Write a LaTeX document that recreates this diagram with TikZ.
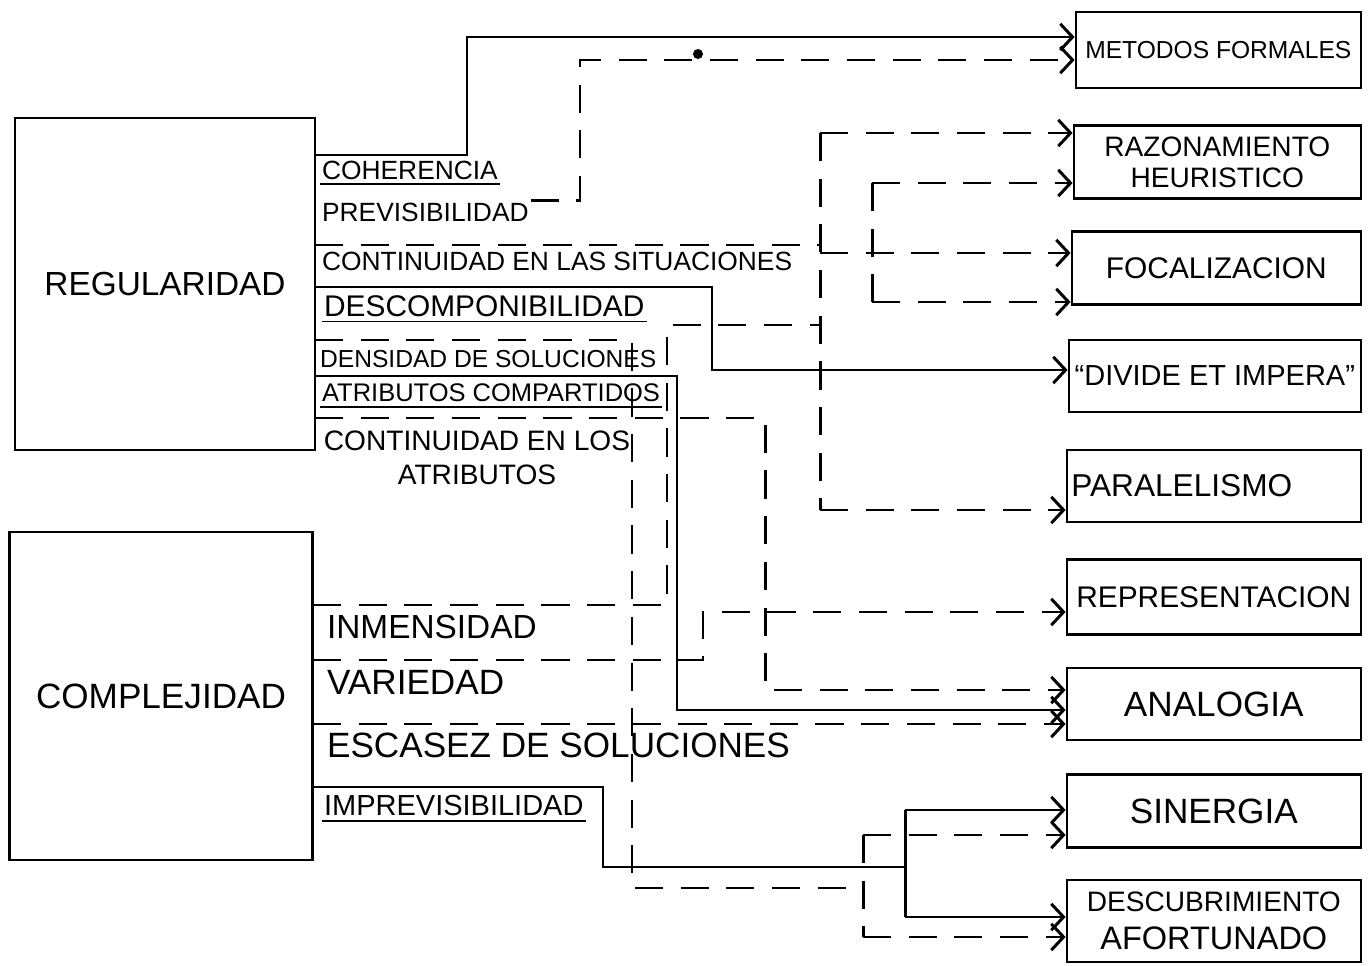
\documentclass[tikz,border=0pt]{standalone}
\usepackage{fontspec}
\setmainfont{Liberation Sans}
\usepackage{tikz}
\usetikzlibrary{arrows.meta}

\newcommand{\fsz}[1]{\fontsize{#1}{#1}\selectfont}

\tikzset{
	ln/.style={line width=1.7pt},
	bx/.style={draw, line width=1.4pt, inner sep=0pt},
	rbox/.style={bx, anchor=east, minimum width=5.88cm, minimum height=1.46cm},
	lbl/.style={anchor=west, inner sep=1pt},
	uline/.style={line width=0.9pt},
	>={Straight Barb[length=7pt,width=15pt]}
}

\begin{document}
\begin{tikzpicture}[x=0.02cm, y=-0.02cm]
		\useasboundingbox (0,0) rectangle (1370,966);
		
		% left blocks
		\node[bx, minimum width=6cm, minimum height=6.64cm, font=\fsz{19}] (reg) at (165,284) {REGULARIDAD};
		\node[bx, minimum width=6.06cm, minimum height=6.56cm, font=\fsz{20}] (com) at (161,696) {COMPLEJIDAD};
		
		% right blocks
		\node[rbox, minimum width=5.7cm, minimum height=1.52cm, font=\fsz{14}] (met) at (1362,50) {METODOS FORMALES};
		\node[rbox, minimum width=5.74cm, align=center, font=\fontsize{16}{17.5}\selectfont] (raz) at (1362,162) {RAZONAMIENTO\\HEURISTICO};
		\node[rbox, minimum width=5.78cm, font=\fsz{17}] (foc) at (1362,268) {FOCALIZACION};
		\node[rbox, minimum width=5.84cm, minimum height=1.44cm, font=\fsz{16.5}] (div) at (1362,376) {“DIVIDE ET IMPERA”};
		\node[rbox, minimum height=1.44cm, text width=5.7cm, align=left, font=\fsz{18}] (par) at (1362,486) {PARALELISMO};
		\node[rbox, minimum height=1.5cm, font=\fsz{17}] (rep) at (1362,597) {REPRESENTACION};
		\node[rbox, minimum height=1.44cm, font=\fsz{20}] (ana) at (1362,704) {ANALOGIA};
		\node[rbox, font=\fsz{20}] (sin) at (1362,811) {SINERGIA};
		\node[rbox, minimum height=1.64cm, align=center, font=\fontsize{16}{21.5}\selectfont] (des) at (1362,921) {DESCUBRIMIENTO\\{\fsz{18.5}AFORTUNADO}};
		
		% properties
		\node[lbl, font=\fsz{15}] (coh) at (320,170) {COHERENCIA};
		\node[lbl, font=\fsz{15}] (prev) at (320,212) {PREVISIBILIDAD};
		\node[lbl, font=\fsz{15}] (cont) at (320,261) {CONTINUIDAD EN LAS SITUACIONES};
		\node[lbl, font=\fsz{17}] (desc) at (322,306) {DESCOMPONIBILIDAD};
		\node[lbl, font=\fsz{14}] (dens) at (318,359) {DENSIDAD DE SOLUCIONES};
		\node[lbl, font=\fsz{14.5}] (atr) at (320,393) {ATRIBUTOS COMPARTIDOS};
		\node[align=center, inner sep=0pt, font=\fontsize{16}{19}\selectfont] (cla) at (477,458) {CONTINUIDAD EN LOS\\ATRIBUTOS};
		\node[lbl, font=\fsz{19}] (inm) at (325,627) {INMENSIDAD};
		\node[lbl, font=\fsz{20}] (var) at (325,682) {VARIEDAD};
		\node[lbl, font=\fsz{20}] (esc) at (325,745) {ESCASEZ DE SOLUCIONES};
		\node[lbl, font=\fsz{16.5}] (impr) at (322,806) {IMPREVISIBILIDAD};
		
		\foreach \n in {coh, desc, atr, impr}
			\draw[uline] ([yshift=-1.5pt]\n.south west) -- ([yshift=-1.5pt]\n.south east);
		
		\coordinate (cohA) at (315,155);   \coordinate (cohB) at (467,37);
		\coordinate (prevB) at (580,60);
		\coordinate (contA) at (315,245);
		\coordinate (descA) at (315,287);  \coordinate (descB) at (712,370);
		\coordinate (densA) at (315,340);  \coordinate (densB) at (632,888);
		\coordinate (atrA) at (315,376);   \coordinate (atrB) at (677,710);
		\coordinate (claA) at (315,418);   \coordinate (claB) at (765,690);
		\coordinate (inmA) at (313,605);   \coordinate (inmB) at (667,325);
		\coordinate (varA) at (313,660);   \coordinate (varB) at (703,612);
		\coordinate (escA) at (313,724);
		\coordinate (imprA) at (313,787);  \coordinate (imprB) at (603,867);
		
		\coordinate (busT) at (820,133);   \coordinate (busM) at (820,253);
		\coordinate (busB) at (820,510);
		\coordinate (busHT) at (872,183);  \coordinate (busHB) at (872,302);
		\coordinate (busST) at (863,835);  \coordinate (busSB) at (863,937);
		\coordinate (busIT) at (905,810);  \coordinate (busIB) at (905,917);
		
		% solid links
		\begin{scope}[ln]
			\draw[->] (cohA) -| (cohB) -- (met.west |- cohB);
			\draw[->] (descA) -| (descB) -- (div.west |- descB);
			\draw[->] (atrA) -| (atrB) -- (ana.west |- atrB);
			\draw (imprA) -| (imprB) -- (imprB -| busIT);
			\draw (busIT) -- (busIB);
			\draw[->] (busIT) -- (sin.west |- busIT);
			\draw[->] (busIB) -- (des.west |- busIB);
		\end{scope}
		
		% dashed links
		\begin{scope}[ln, dash pattern=on 16pt off 10pt]
			\draw[->] (prev.north east) -| (prevB) -- (met.west |- prevB);
			\draw (contA) -- (contA -| busT);
			\draw (busT) -- (busB);
			\draw[->] (busT) -- (raz.west |- busT);
			\draw[->] (busM) -- (foc.west |- busM);
			\draw[->] (busB) -- (par.west |- busB);
			\draw (busHT) -- (busHB);
			\draw[->] (busHT) -- (raz.west |- busHT);
			\draw[->] (busHB) -- (foc.west |- busHB);
			\draw (inmA) -| (inmB) -- (inmB -| busT);
			\draw (densA) -| (densB) -- (densB -| busST);
			\draw (busST) -- (busSB);
			\draw[->] (busST) -- (sin.west |- busST);
			\draw[->] (busSB) -- (des.west |- busSB);
			\draw[->] (claA) -| (claB) -- (ana.west |- claB);
			\draw[->] (varA) -| (varB) -- (rep.west |- varB);
			\draw[->] (escA) -- (ana.west |- escA);
		\end{scope}
		
		\fill (698,54) circle [radius=0.1cm];
	\end{tikzpicture}
\end{document}
